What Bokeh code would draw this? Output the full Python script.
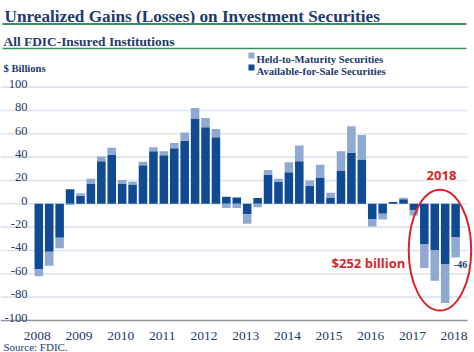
from bokeh.plotting import figure
from bokeh.models import Range1d
from bokeh.core.properties import value
from bokeh.embed import file_html
from bokeh.resources import INLINE

# ---------------- data ----------------
quarters = ["2008Q4",
            "2009Q1", "2009Q2", "2009Q3", "2009Q4",
            "2010Q1", "2010Q2", "2010Q3", "2010Q4",
            "2011Q1", "2011Q2", "2011Q3", "2011Q4",
            "2012Q1", "2012Q2", "2012Q3", "2012Q4",
            "2013Q1", "2013Q2", "2013Q3", "2013Q4",
            "2014Q1", "2014Q2", "2014Q3", "2014Q4",
            "2015Q1", "2015Q2", "2015Q3", "2015Q4",
            "2016Q1", "2016Q2", "2016Q3", "2016Q4",
            "2017Q1", "2017Q2", "2017Q3", "2017Q4",
            "2018Q1", "2018Q2", "2018Q3", "2018Q4"]
afs = [-56, -41, -29, 12.5, 7, 17.5, 36.5, 42, 17.5, 16.5, 33, 45, 41.5,
       47.5, 54, 73, 65.5, 57, 6, 5.5, -9, 5, 25, 19, 27, 36.5, 15.5, 22.5,
       5, 28.5, 43.5, 38, -13.5, -8.5, 1.5, 4, -5.5, -34.5, -39.5, -52, -28.5]
htm = [-6, -12, -9, -1, 2, 4, 4, 6, 3, 2.5, 3, 3.5, 3.5,
       4.5, 7, 9, 8, 7, -3.5, -3.5, -8, -3, 4, 2.5, 8.5, 13.5, 4.5, 11,
       4.5, 16.5, 23, 21, -6, -5, 0, 1.2, -4.5, -20.5, -26.5, -33, -17.5]
year_labels = ["2008", "2009", "2010", "2011", "2012", "2013",
               "2014", "2015", "2016", "2017", "2018"]
y_ticks = [100, 80, 60, 40, 20, 0, -20, -40, -60, -80, -100]
y_tick_labels = ["100", "80", "60", "40", "20", "0", "-20", "-40", "-60", "-80", "-100"]
series_names = ["Held-to-Maturity Securities", "Available-for-Sale Securities"]

# ---------------- styling ----------------
NAVY = "#1d3b6b"
DARK = "#0f4a92"
LIGHT = "#8fa9d3"
GREEN = "#3a8d5c"
RED = "#d7262b"
GRID = "#dde4ed"
AXIS = "#8f969e"
SERIF = value("Liberation Serif")
SANS = value("Open Sans")

W, H = 474, 352
X0, DX = 38.3, 10.42     # pixel of first bar centre, pixels per quarter
Y0, DY = 203.3, 1.167    # pixel of zero line, pixels per $bn


def sx(px):
    return (px - X0) / DX


def sy(py):
    return (Y0 - py) / DY


p = figure(width=W, height=H,
           x_range=Range1d(sx(0), sx(W)), y_range=Range1d(sy(H), sy(0)),
           x_axis_type=None, y_axis_type=None,
           toolbar_location=None, output_backend="svg",
           min_border=0, min_border_left=0, min_border_right=0,
           min_border_top=0, min_border_bottom=0,
           outline_line_color=None,
           background_fill_color="white", border_fill_color="white")

n = len(quarters)
idx = list(range(n))

# grid lines (tick values above the axis)
grid_vals = [t for t in y_ticks if t != min(y_ticks)]
p.segment(x0=[sx(0)] * len(grid_vals), x1=[sx(467)] * len(grid_vals),
          y0=grid_vals, y1=grid_vals, line_color=GRID, line_width=1.6)

# stacked bars
afs_bottom = [0] * n
afs_top = afs
htm_bottom = [a if (a * h) > 0 else 0 for a, h in zip(afs, htm)]
htm_top = [b + h for b, h in zip(htm_bottom, htm)]

p.vbar(x=idx, width=0.82, bottom=afs_bottom, top=afs_top,
       fill_color=DARK, line_color=None)
p.vbar(x=idx, width=0.82, bottom=htm_bottom, top=htm_top,
       fill_color=LIGHT, line_color=None)

# x axis line
p.segment(x0=[sx(0)], x1=[sx(467)], y0=[min(y_ticks)], y1=[min(y_ticks)],
          line_color=AXIS, line_width=1.6)

# y tick labels (sitting above their grid lines)
p.text(x=[sx(27)] * len(y_ticks), y=y_ticks, text=y_tick_labels,
       text_font=SERIF, text_font_size="12.5px", text_color=NAVY,
       text_align="right", text_baseline="alphabetic", y_offset=-3)

# year labels under the Q4 bars
q4_idx = [i for i, q in enumerate(quarters) if q.endswith("Q4")]
p.text(x=q4_idx, y=[min(y_ticks)] * len(q4_idx), text=year_labels,
       text_font=SERIF, text_font_size="13.5px", text_color=NAVY,
       text_align="center", text_baseline="alphabetic",
       x_offset=-1.5, y_offset=15)

# titles
p.text(x=[sx(4)], y=[sy(16)], text=["Unrealized Gains (Losses) on Investment Securities"],
       text_font=SERIF, text_font_style="bold", text_font_size="17.2px",
       text_color=NAVY, text_align="left", text_baseline="alphabetic")
p.segment(x0=[sx(2)], x1=[sx(466)], y0=[sy(23.5)], y1=[sy(23.5)],
          line_color=GREEN, line_width=2.2)
p.text(x=[sx(3)], y=[sy(40.5)], text=["All FDIC-Insured Institutions"],
       text_font=SERIF, text_font_style="bold", text_font_size="13.4px",
       text_color=NAVY, text_align="left", text_baseline="alphabetic")
p.segment(x0=[sx(2)], x1=[sx(466)], y0=[sy(48)], y1=[sy(48)],
          line_color=GREEN, line_width=1.3)
p.text(x=[sx(3)], y=[sy(68)], text=["$ Billions"],
       text_font=SERIF, text_font_style="bold", text_font_size="10.6px",
       text_color=NAVY, text_align="left", text_baseline="alphabetic")

# legend
p.scatter(x=[sx(251)] * 2, y=[sy(55), sy(67)], marker="square", size=6,
          fill_color=[LIGHT, DARK], line_color=None)
p.text(x=[sx(256)] * 2, y=[sy(58.5), sy(70.5)], text=series_names,
       text_font=SERIF, text_font_style="bold", text_font_size="10.7px",
       text_color=NAVY, text_align="left", text_baseline="alphabetic")

# source
p.text(x=[sx(3)], y=[sy(346.5)], text=["Source: FDIC."],
       text_font=SERIF, text_font_size="11px", text_color=NAVY,
       text_align="left", text_baseline="alphabetic")

# annotations for 2018
last_total = afs[-1] + htm[-1]
p.text(x=[idx[-1]], y=[last_total], text=[f"{round(last_total)}"],
       text_font=SERIF, text_font_style="bold", text_font_size="10px",
       text_color=NAVY, text_align="center", text_baseline="top",
       x_offset=5, y_offset=4)

yr18 = [i for i, q in enumerate(quarters) if q.startswith("2018")]
total18 = -sum(afs[i] + htm[i] for i in yr18)
mid18 = sum(yr18) / len(yr18)
p.ellipse(x=[mid18], y=[sy(249.7)], width=6.0, height=103.5,
          fill_color=None, line_color=RED, line_width=2)
p.text(x=[mid18], y=[sy(175)], text=["2018"],
       text_font=SANS, text_font_style="bold", text_font_size="13px",
       text_color=RED, text_align="center", text_baseline="middle", x_offset=1.5)
p.text(x=[yr18[0]], y=[sy(262.5)], text=[f"${round(total18)} billion"],
       text_font=SANS, text_font_style="bold", text_font_size="13px",
       text_color=RED, text_align="right", text_baseline="middle", x_offset=-19)

open("out.html", "w").write(file_html(p, INLINE))
